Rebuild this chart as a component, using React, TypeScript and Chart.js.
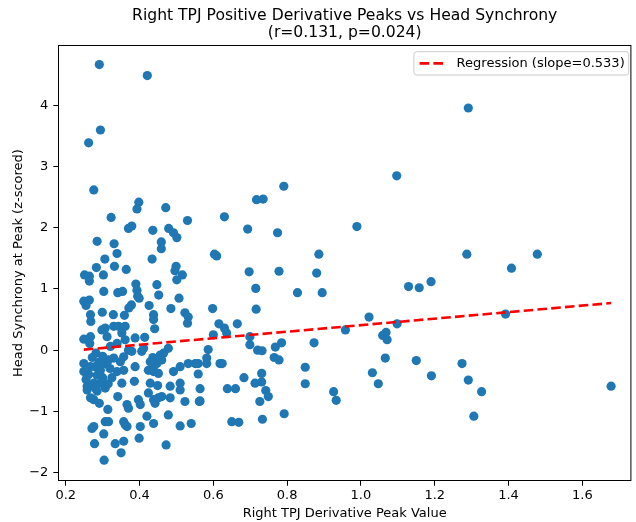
import React, { useEffect, useRef } from 'react';
import { Chart, registerables } from 'chart.js';

Chart.register(...registerables);

// ---- Data ----
const peakValues: number[] = [
  0.291, 0.421, 1.291, 0.294, 0.262, 1.097, 0.791, 0.276, 0.717, 0.735,
  0.398, 0.393, 0.471, 0.323, 0.530, 0.630, 0.370, 0.379, 0.436, 0.479,
  0.492, 0.501, 0.693, 0.774, 0.989, 0.285, 0.331, 0.459, 0.459, 0.339,
  0.434, 0.603, 0.609, 0.886, 0.306, 0.283, 0.332, 0.364, 0.499, 0.496,
  0.251, 0.264, 0.264, 0.302, 0.516, 0.501, 0.390, 0.447, 0.697, 0.778,
  0.880, 0.303, 0.341, 0.354, 0.393, 0.395, 0.452, 0.507, 0.715, 0.828,
  0.895, 0.249, 0.264, 0.255, 0.378, 0.371, 0.399, 0.426, 0.485, 0.523,
  0.532, 0.598, 0.716, 0.299, 0.329, 0.359, 0.267, 0.268, 0.438, 0.438,
  0.530, 0.615, 0.298, 0.330, 0.343, 0.361, 0.441, 0.630, 0.636, 0.665,
  0.600, 0.699, 0.958, 0.699, 0.720, 0.732, 0.768, 0.785, 0.873, 0.586,
  0.582, 0.582, 0.559, 0.618, 0.624, 0.765, 0.778, 0.559, 0.683, 0.731,
  0.713, 0.731, 0.849, 0.849, 0.638, 0.660, 0.564, 0.564, 0.742, 0.749,
  0.726, 0.926, 0.933, 0.792, 0.650, 0.669, 0.733, 0.249, 0.267, 0.265,
  0.312, 0.307, 0.352, 0.361, 0.339, 0.321, 0.388, 0.414, 0.370, 0.379,
  0.357, 0.348, 0.406, 0.411, 0.436, 0.456, 0.465, 0.478, 0.282, 0.249,
  0.249, 0.267, 0.280, 0.294, 0.285, 0.307, 0.316, 0.330, 0.339, 0.357,
  0.388, 0.424, 0.438, 0.447, 0.460, 0.429, 0.438, 0.451, 0.492, 0.510,
  0.532, 0.551, 0.258, 0.258, 0.276, 0.294, 0.307, 0.285, 0.267, 0.276,
  0.291, 0.352, 0.386, 0.341, 0.429, 0.449, 0.424, 0.438, 0.442, 0.451,
  0.460, 0.397, 0.402, 0.366, 0.370, 0.483, 0.483, 0.510, 0.510, 0.523,
  0.562, 0.314, 0.420, 0.438, 0.478, 0.276, 0.271, 0.307, 0.316, 0.357,
  0.361, 0.366, 0.402, 0.510, 0.540, 0.303, 0.278, 0.334, 0.357, 0.399,
  0.350, 0.472, 0.304, 1.022, 1.098, 1.129, 1.158, 1.190, 1.068, 1.059,
  1.071, 1.066, 1.150, 1.031, 1.047, 1.191, 1.274, 1.291, 1.327, 1.306,
  1.287, 1.408, 1.478, 1.392, 1.678, 0.262, 0.300, 0.320, 0.272, 0.315,
  0.290, 0.255, 0.325, 0.300, 0.280,
];

const synchronyValues: number[] = [
  4.67, 4.49, 3.96, 3.60, 3.39, 2.85, 2.68, 2.62, 2.46, 2.47,
  2.42, 2.31, 2.33, 2.17, 2.12, 2.18, 1.99, 2.03, 1.96, 1.99,
  1.92, 1.84, 1.98, 1.92, 2.02, 1.78, 1.74, 1.77, 1.66, 1.58,
  1.49, 1.57, 1.54, 1.57, 1.49, 1.35, 1.37, 1.32, 1.37, 1.30,
  1.23, 1.21, 1.13, 1.23, 1.23, 1.15, 1.08, 1.07, 1.28, 1.29,
  1.26, 0.96, 0.94, 0.96, 0.98, 0.88, 0.90, 0.85, 1.01, 0.94,
  0.94, 0.80, 0.82, 0.73, 0.74, 0.69, 0.85, 0.73, 0.68, 0.61,
  0.54, 0.68, 0.67, 0.62, 0.58, 0.57, 0.58, 0.47, 0.58, 0.50,
  0.44, 0.43, 0.33, 0.39, 0.39, 0.39, 0.35, 0.36, 0.28, 0.43,
  0.25, 0.22, 0.33, 0.09, 0.00, -0.01, 0.05, 0.12, 0.12, 0.01,
  -0.13, -0.22, -0.22, -0.22, -0.22, -0.12, -0.16, -0.39, -0.45, -0.38,
  -0.54, -0.52, -0.28, -0.55, -0.63, -0.63, -0.63, -0.83, -0.66, -0.76,
  -0.84, -0.68, -0.82, -1.04, -1.17, -1.18, -1.13, 0.18, 0.22, 0.11,
  0.22, 0.36, 0.28, 0.17, 0.11, 0.06, 0.20, 0.21, 0.00, -0.02,
  -0.11, -0.19, -0.02, 0.03, -0.12, -0.08, -0.05, 0.03, -0.05, -0.22,
  -0.35, -0.27, -0.27, -0.33, -0.41, -0.22, -0.16, -0.13, -0.35, -0.33,
  -0.27, -0.33, -0.27, -0.22, -0.16, -0.19, -0.35, -0.38, -0.35, -0.27,
  -0.22, -0.22, -0.59, -0.65, -0.54, -0.54, -0.62, -0.67, -0.78, -0.81,
  -0.87, -0.54, -0.51, -0.76, -0.54, -0.58, -0.70, -0.81, -0.87, -0.78,
  -0.76, -0.81, -0.89, -0.89, -0.95, -0.59, -0.78, -0.54, -0.65, -0.84,
  -0.84, -0.97, -1.08, -1.20, -1.06, -1.25, -1.28, -1.17, -1.17, -1.17,
  -1.22, -1.25, -1.25, -1.24, -1.20, -1.37, -1.53, -1.53, -1.49, -1.44,
  -1.68, -1.55, -1.80, 0.54, 0.43, 1.04, 1.02, 1.12, 0.29, 0.24,
  0.17, -0.13, -0.17, -0.37, -0.55, -0.42, -0.22, -0.49, -0.68, -1.08,
  1.57, 1.34, 1.57, 0.59, -0.59, -0.40, -0.45, -0.30, -0.12, -0.55,
  -0.20, -0.48, -0.45, -0.10, -0.62,
];

const regressionX: number[] = [0.249, 1.678];
const regressionY: number[] = [0.008, 0.77];

const titleLines: string[] = [
  'Right TPJ Positive Derivative Peaks vs Head Synchrony',
  '(r=0.131, p=0.024)',
];
const xAxisLabel = 'Right TPJ Derivative Peak Value';
const yAxisLabel = 'Head Synchrony at Peak (z-scored)';
const legendLabel = 'Regression (slope=0.533)';

const xLimits: number[] = [0.179, 1.733];
const yLimits: number[] = [-2.14, 4.99];
const xTickStep = 0.2;
const yTickStep = 1;

const FONT = "'DejaVu Sans', sans-serif";
const POINT_COLOR = '#1f77b4';

const framePlugin = {
  id: 'mplFrame',
  afterDatasetsDraw(chart: any) {
    const { ctx, chartArea: a } = chart;
    ctx.save();
    ctx.strokeStyle = '#000';
    ctx.lineWidth = 1;
    ctx.setLineDash([]);
    ctx.strokeRect(a.left + 0.5, a.top + 0.5, a.right - a.left - 1, a.bottom - a.top - 1);
    ctx.restore();
  },
};

const legendPlugin = {
  id: 'mplLegend',
  afterDraw(chart: any) {
    const { ctx, chartArea: a } = chart;
    ctx.save();
    ctx.font = `13px ${FONT}`;
    const tw = ctx.measureText(legendLabel).width;
    const right = a.right - 2.7;
    const top = a.top + 6.7;
    const h = 23.3;
    const w = 42.7 + tw + 4;
    const left = right - w;
    const r = 2.6;
    ctx.beginPath();
    ctx.moveTo(left + r, top);
    ctx.lineTo(left + w - r, top);
    ctx.quadraticCurveTo(left + w, top, left + w, top + r);
    ctx.lineTo(left + w, top + h - r);
    ctx.quadraticCurveTo(left + w, top + h, left + w - r, top + h);
    ctx.lineTo(left + r, top + h);
    ctx.quadraticCurveTo(left, top + h, left, top + h - r);
    ctx.lineTo(left, top + r);
    ctx.quadraticCurveTo(left, top, left + r, top);
    ctx.closePath();
    ctx.fillStyle = 'rgba(255,255,255,0.8)';
    ctx.fill();
    ctx.strokeStyle = '#cccccc';
    ctx.lineWidth = 1;
    ctx.stroke();
    // dashed sample
    ctx.beginPath();
    ctx.setLineDash([9.6, 4.2]);
    ctx.strokeStyle = 'red';
    ctx.lineWidth = 2.6;
    ctx.moveTo(left + 5.7, top + 11.7);
    ctx.lineTo(left + 31.7, top + 11.7);
    ctx.stroke();
    ctx.setLineDash([]);
    ctx.fillStyle = '#000';
    ctx.textBaseline = 'middle';
    ctx.textAlign = 'left';
    ctx.fillText(legendLabel, left + 42.7, top + 11.9);
    ctx.restore();
  },
};

export default function App() {
  const canvasRef = useRef<HTMLCanvasElement>(null);

  useEffect(() => {
    if (!canvasRef.current) return;
    const points = peakValues.map((x, i) => ({ x, y: synchronyValues[i] }));
    const regression = regressionX.map((x, i) => ({ x, y: regressionY[i] }));

    const tickFont = { family: FONT, size: 13 };

    const chart = new Chart(canvasRef.current, {
      type: 'scatter',
      data: {
        datasets: [
          {
            label: legendLabel,
            data: regression,
            showLine: true,
            borderColor: 'red',
            borderWidth: 2.6,
            borderDash: [9.6, 4.2],
            pointRadius: 0,
            fill: false,
            order: 0,
          } as any,
          {
            label: 'Peaks',
            data: points,
            backgroundColor: POINT_COLOR,
            borderColor: POINT_COLOR,
            borderWidth: 0,
            pointRadius: 4.6,
            order: 1,
          },
        ],
      },
      options: {
        responsive: false,
        animation: false,
        events: [],
        devicePixelRatio: 1,
        layout: { padding: { left: 0, right: 1, top: 0, bottom: 0 } },
        plugins: {
          legend: { display: false },
          tooltip: { enabled: false },
          title: {
            display: true,
            fullSize: false,
            text: titleLines,
            color: '#000',
            font: { family: FONT, size: 15.6, weight: 'normal', lineHeight: '17.7px' } as any,
            padding: { top: 6.8, bottom: 2.8 },
          },
        },
        scales: {
          x: {
            type: 'linear',
            min: xLimits[0],
            max: xLimits[1],
            border: { display: false },
            grid: {
              display: true,
              drawOnChartArea: false,
              drawTicks: true,
              tickLength: 4.7,
              tickColor: '#000',
              tickWidth: 1,
            },
            ticks: {
              stepSize: xTickStep,
              includeBounds: false,
              autoSkip: false,
              maxRotation: 0,
              color: '#000',
              font: tickFont,
              padding: 2.5,
              callback: (v: any) => Number(v).toFixed(1),
            },
            title: {
              display: true,
              text: xAxisLabel,
              color: '#000',
              font: { family: FONT, size: 13 },
              padding: { top: 0, bottom: 0.2 },
            },
            afterFit: (scale: any) => {
              scale.height = 41;
            },
          },
          y: {
            type: 'linear',
            min: yLimits[0],
            max: yLimits[1],
            border: { display: false },
            grid: {
              display: true,
              drawOnChartArea: false,
              drawTicks: true,
              tickLength: 4.7,
              tickColor: '#000',
              tickWidth: 1,
            },
            ticks: {
              stepSize: yTickStep,
              includeBounds: false,
              autoSkip: false,
              color: '#000',
              font: tickFont,
              padding: 5,
              callback: (v: any) => (Number(v) < 0 ? '\u2212' + Math.abs(Number(v)) : String(v)),
            },
            title: {
              display: true,
              text: yAxisLabel,
              color: '#000',
              font: { family: FONT, size: 13 },
              padding: { top: 10.7, bottom: 0 },
            },
            afterFit: (scale: any) => {
              scale.width = 58;
            },
          },
        },
      },
      plugins: [framePlugin, legendPlugin],
    });

    return () => {
      chart.destroy();
    };
  }, []);

  return (
    <div style={{ position: 'absolute', left: 0, top: 0, width: 636, height: 522, background: '#fff' }}>
      <canvas ref={canvasRef} width={636} height={522} style={{ width: 636, height: 522, display: 'block' }} />
    </div>
  );
}
